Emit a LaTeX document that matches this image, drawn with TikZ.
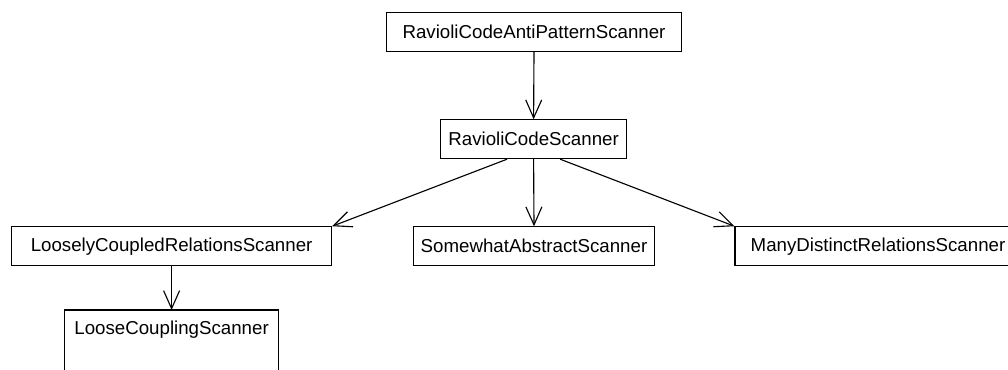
\documentclass[tikz,border=0pt]{standalone}
\usepackage{fontspec}
\setmainfont{Liberation Sans}
\usetikzlibrary{arrows.meta}

\begin{document}
\begin{tikzpicture}[
    scannerbox/.style={shape=rectangle,draw,line width=0.8pt,minimum height=0.97cm,inner sep=0pt,font=\fontsize{13.3}{16}\selectfont},
    inherits/.style={-{Straight Barb[length=0.45cm,width=0.4cm]},line width=0.8pt}]
    \clip (0,0) rectangle (25.2,9.225);
    \node[scannerbox,minimum width=7.36cm] (rcap) at (13.35,8.425) { RavioliCodeAntiPatternScanner };
    \node[scannerbox,minimum width=4.65cm] (rcs)  at (13.34,5.745) { RavioliCodeScanner };
    \node[scannerbox,minimum width=8.0cm]  (lcrs) at (4.29,3.07)   { LooselyCoupledRelationsScanner };
    \node[scannerbox,minimum width=6.03cm] (sas)  at (13.35,3.07)  { SomewhatAbstractScanner };
    \node[scannerbox,minimum width=7.15cm] (mdrs) at (21.95,3.07)  { ManyDistinctRelationsScanner };
    % the lower box runs on past the page edge
    \node[scannerbox,draw=none,minimum width=5.33cm,anchor=north] (lcs) at (4.29,1.475) { LooseCouplingScanner };
    \draw[line width=0.8pt] ([yshift=-1cm]lcs.south west) |- (lcs.north east) -- ([yshift=-1cm]lcs.south east);
    \draw[inherits] (rcap.south) -- (rcs.north);
    \draw[inherits] (rcs.217) -- (lcrs.north east);
    \draw[inherits] (rcs.south) -- (sas.north);
    \draw[inherits] (rcs.323) -- (mdrs.north west);
    \draw[inherits] (lcrs.south) -- (lcs.north);
\end{tikzpicture}
\end{document}
